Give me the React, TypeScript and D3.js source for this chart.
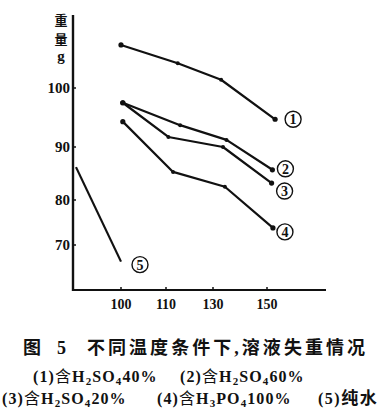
import { scaleLinear, line } from "d3";

// readings: temperature (°C) and weight (g)
const xTicks = [100, 110, 130, 150];
const yTicks = [70, 80, 90, 100];

const s1Temp = [100, 115, 133, 153];
const s1Weight = [107.3, 104.2, 101.4, 94.7];
const s2Temp = [100.4, 116, 135, 152];
const s2Weight = [97.5, 93.7, 91.2, 85.7];
const s3Temp = [100.4, 111, 133.7, 151.7];
const s3Weight = [97.5, 91.7, 90.0, 83.2];
const s4Temp = [100.4, 113, 134.4, 152.2];
const s4Weight = [94.3, 85.3, 82.5, 73.8];
const s5Temp = [90, 100];
const s5Weight = [86.2, 66.3];

const seriesLabels = ["1", "2", "3", "4", "5"];

const W = 389;
const H = 414;

const serif = "'Liberation Serif', 'DejaVu Serif', serif";
const cjk = "'Noto Sans CJK SC', sans-serif";

// the printed axes are not evenly spaced, so piecewise scales
const x = scaleLinear().domain(xTicks).range([121, 166, 213, 267]);
const y = scaleLinear().domain(yTicks).range([245, 200, 147, 88]);

const series = [
  { t: s1Temp, w: s1Weight, dots: true, dx: 18, dy: 0 },
  { t: s2Temp, w: s2Weight, dots: true, dx: 13, dy: -1 },
  { t: s3Temp, w: s3Weight, dots: true, dx: 13, dy: 8 },
  { t: s4Temp, w: s4Weight, dots: true, dx: 12, dy: 4 },
  { t: s5Temp, w: s5Weight, dots: false, dx: 19, dy: 3 },
];

const path: any = line<[number, number]>()
  .x((d) => x(d[0]))
  .y((d) => y(d[1]));

// "(1)", "含", formula with subscripts like "H_2SO_4", then the percentage
const LegendText = ({ num, f, pct }: { num: string; f: string; pct: string }) => {
  const parts = f.split(/(_\d)/).filter((p) => p !== "");
  let low = false;
  const out: any[] = [];
  parts.forEach((p, i) => {
    if (p.startsWith("_")) {
      out.push(
        <tspan key={i} fontSize={11} dy={low ? 0 : 3}>
          {p.slice(1)}
        </tspan>
      );
      low = true;
    } else {
      out.push(
        <tspan key={i} dy={low ? -3 : 0}>
          {p}
        </tspan>
      );
      low = false;
    }
  });
  return (
    <>
      <tspan>{num}</tspan>
      <tspan fontFamily={cjk} fontWeight="normal">含</tspan>
      {out}
      <tspan dy={low ? -3 : 0}>{pct}</tspan>
    </>
  );
};

const legendRows = [
  [
    { x: 33, num: "(1)", f: "H_2SO_4", pct: "40%" },
    { x: 180, num: "(2)", f: "H_2SO_4", pct: "60%" },
  ],
  [
    { x: 2, num: "(3)", f: "H_2SO_4", pct: "20%" },
    { x: 157, num: "(4)", f: "H_3PO_4", pct: "100%" },
  ],
];

const App = () => {
  const x0 = 73;
  const x1 = 326;
  const y0 = 290;
  const yTop = 15;

  return (
    <svg
      width={W}
      height={H}
      style={{ position: "absolute", left: 0, top: 0, background: "#fff" }}
    >
      {/* axes */}
      <line x1={x0} y1={yTop} x2={x0} y2={y0 + 1} stroke="#111" strokeWidth={2.4} />
      <line x1={x0 - 1} y1={y0} x2={x1} y2={y0} stroke="#111" strokeWidth={2} />

      {/* y axis title */}
      <g fontFamily={cjk} fontWeight="bold" fontSize={13} textAnchor="middle" fill="#111">
        <text x={61} y={25}>重</text>
        <text x={61} y={44}>量</text>
      </g>
      <text x={61} y={61} fontFamily={serif} fontWeight="bold" fontSize={15} textAnchor="middle" fill="#111">
        g
      </text>

      {/* y ticks */}
      {yTicks.map((v) => (
        <g key={v}>
          <line x1={x0} x2={x0 + 3} y1={y(v)} y2={y(v)} stroke="#111" strokeWidth={1.5} />
          <text
            x={x0 - 3}
            y={y(v)}
            dy="0.35em"
            textAnchor="end"
            fontFamily={serif}
            fontWeight="bold"
            fontSize={15}
            fill="#111"
          >
            {v}
          </text>
        </g>
      ))}

      {/* x ticks */}
      {xTicks.map((v) => (
        <g key={v}>
          <line x1={x(v)} x2={x(v)} y1={y0} y2={y0 - 3} stroke="#111" strokeWidth={1.5} />
          <text
            x={x(v)}
            y={309}
            textAnchor="middle"
            fontFamily={serif}
            fontWeight="bold"
            fontSize={14}
            fill="#111"
          >
            {v}
          </text>
        </g>
      ))}

      {/* series */}
      {series.map((s, i) => {
        const pts: [number, number][] = s.t.map((t, j) => [t, s.w[j]]);
        const last = pts[pts.length - 1];
        const lx = x(last[0]) + s.dx;
        const ly = y(last[1]) + s.dy;
        return (
          <g key={i}>
            <path d={path(pts)} fill="none" stroke="#111" strokeWidth={2.2} strokeLinejoin="round" />
            {s.dots &&
              pts.map((p, j) => (
                <circle key={j} cx={x(p[0])} cy={y(p[1])} r={j === 0 || j === pts.length - 1 ? 2.6 : 2} fill="#111" />
              ))}
            <circle cx={lx} cy={ly} r={8} fill="#fff" stroke="#111" strokeWidth={1.4} />
            <text
              x={lx}
              y={ly}
              dy="0.36em"
              textAnchor="middle"
              fontFamily={serif}
              fontWeight="bold"
              fontSize={14}
              fill="#111"
            >
              {seriesLabels[i]}
            </text>
          </g>
        );
      })}

      {/* caption */}
      <g fontFamily={cjk} fontWeight="bold" fontSize={18} fill="#111">
        <text x={23} y={354}>图</text>
        <text x={57} y={354} fontFamily={serif} fontSize={18}>5</text>
        <text x={87} y={354} textLength={278} lengthAdjust="spacing">
          不同温度条件下<tspan fontFamily={serif}>,</tspan>溶液失重情况
        </text>
      </g>

      {/* legend */}
      {legendRows.map((row, r) =>
        row.map((it, k) => (
          <text
            key={`${r}-${k}`}
            x={it.x}
            y={382 + r * 22}
            letterSpacing={1.1}
            fontFamily={serif}
            fontWeight="bold"
            fontSize={16}
            fill="#111"
          >
            <LegendText num={it.num} f={it.f} pct={it.pct} />
          </text>
        ))
      )}
      <text
        x={318}
        y={404}
        letterSpacing={1.5}
        fontFamily={serif}
        fontWeight="bold"
        fontSize={16}
        fill="#111"
      >
        (5)
        <tspan fontFamily={cjk} fontWeight="bold" fontSize={17}>纯水</tspan>
      </text>
    </svg>
  );
};

export default App;
